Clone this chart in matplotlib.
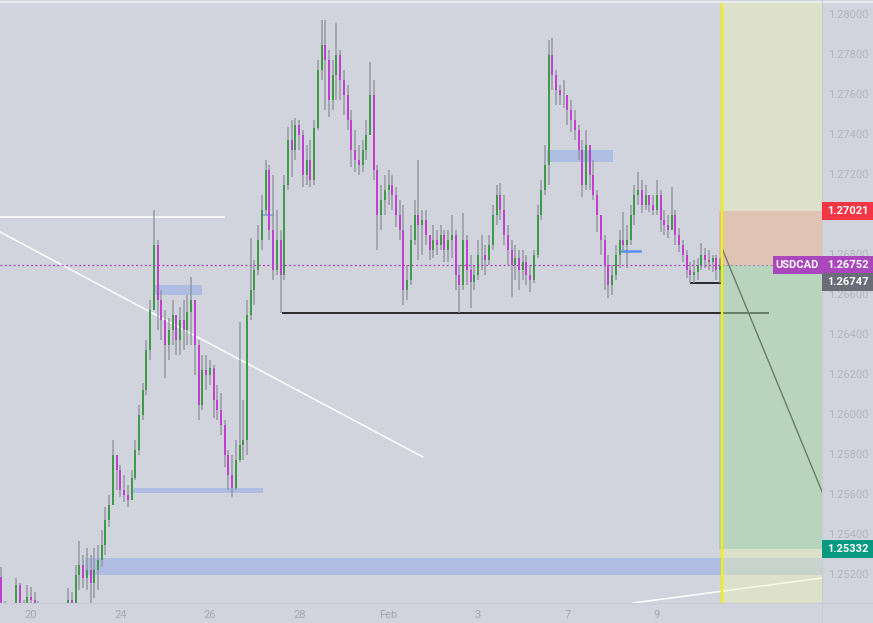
import numpy as np
import matplotlib
matplotlib.use("Agg")
import matplotlib.pyplot as plt
from matplotlib.patches import Rectangle
from matplotlib.lines import Line2D
from matplotlib.transforms import blended_transform_factory

# USDCAD, 2h bars from 19 Jan 16:00 to 10 Feb 08:00
# prices in points (1e-5) above 1.0  ->  price = 1 + pts / 1e5
open0_pts = 25190
close_pts = [
    25060, 25000, 25015, 25025, 25150, 25050, 25035, 25090, 25075, 25060,
    25015, 24985, 24965, 24995, 24975, 25005, 25025, 25015, 25075, 25060,
    25200, 25250, 25185, 25225, 25160, 25225, 25275, 25350, 25475, 25550,
    25800, 25725, 25625, 25600, 25575, 25685, 25825, 26000, 26125, 26325,
    26525, 26850, 26575, 26475, 26350, 26425, 26500, 26375, 26475, 26425,
    26515, 26575, 26350, 26050, 26225, 26200, 26235, 26075, 26025, 25950,
    25800, 25700, 25635, 25775, 25850, 25875, 26500, 26625, 26725, 26875,
    27025, 27225, 26925, 26725, 26875, 26700, 27150, 27375, 27325, 27450,
    27400, 27200, 27275, 27175, 27435, 27725, 27850, 27775, 27575, 27700,
    27800, 27675, 27600, 27475, 27325, 27275, 27250, 27325, 27400, 27600,
    27225, 27000, 27075, 27125, 27150, 27100, 27000, 26925, 26625, 26675,
    26875, 27000, 26950, 26975, 26900, 26825, 26875, 26850, 26900, 26825,
    26875, 26900, 26700, 26650, 26875, 26725, 26665, 26700, 26800, 26800,
    26775, 26850, 27000, 27100, 27025, 26900, 26825, 26750, 26785, 26725,
    26765, 26700, 26675, 26800, 27000, 27125, 27250, 27800, 27700, 27625,
    27600, 27600, 27525, 27475, 27425, 27325, 27150, 27350, 27200, 27100,
    27000, 26875, 26750, 26650, 26700, 26800, 26875, 26850, 26875, 27000,
    27100, 27125, 27050, 27100, 27050, 27025, 27100, 26975, 26950, 26925,
    27000, 26900, 26850, 26800, 26725, 26700, 26715, 26750, 26800, 26775,
    26765, 26785, 26725, 26747]
high_pts = [
    25240, 25070, 25045, 25050, 25185, 25160, 25075, 25150, 25140, 25115,
    25070, 25035, 25015, 25025, 25030, 25040, 25045, 25050, 25135, 25115,
    25250, 25370, 25300, 25335, 25300, 25335, 25350, 25425, 25540, 25600,
    25875, 25800, 25750, 25700, 25650, 25725, 25875, 26050, 26160, 26375,
    26575, 27025, 26875, 26625, 26525, 26485, 26575, 26500, 26540, 26575,
    26600, 26690, 26575, 26375, 26300, 26300, 26275, 26250, 26150, 26110,
    25975, 25825, 25800, 25875, 26465, 26075, 26575, 26885, 26775, 26950,
    27100, 27275, 27250, 27200, 27025, 26925, 27200, 27440, 27475, 27485,
    27475, 27425, 27350, 27375, 27475, 27775, 27975, 27975, 27825, 27775,
    27960, 27825, 27725, 27650, 27525, 27425, 27350, 27375, 27475, 27765,
    27675, 27250, 27150, 27200, 27225, 27200, 27140, 27075, 27050, 26750,
    26950, 27075, 27275, 27025, 27025, 26900, 26950, 26925, 26950, 26925,
    26925, 27000, 26925, 26750, 27010, 26900, 26800, 26750, 26875, 26900,
    26850, 26900, 27050, 27150, 27160, 27100, 26950, 26875, 26850, 26825,
    26825, 26800, 26750, 26825, 27050, 27175, 27350, 27875, 27885, 27725,
    27650, 27675, 27600, 27575, 27525, 27450, 27375, 27425, 27350, 27275,
    27125, 27000, 26900, 26800, 26750, 26850, 26925, 27015, 26950, 27050,
    27150, 27215, 27175, 27150, 27100, 27100, 27175, 27125, 27025, 27000,
    27140, 27025, 26935, 26875, 26825, 26765, 26775, 26785, 26860, 26835,
    26825, 26800, 26800, 26785]
low_pts = [
    25000, 24950, 24965, 24975, 25015, 25015, 24975, 25015, 25000, 25000,
    24965, 24945, 24925, 24935, 24950, 24955, 24975, 24985, 25000, 25000,
    25050, 25125, 25135, 25125, 25060, 25085, 25125, 25240, 25300, 25440,
    25550, 25625, 25590, 25565, 25540, 25575, 25675, 25800, 25975, 26100,
    26275, 26525, 26425, 26375, 26185, 26275, 26350, 26300, 26300, 26325,
    26350, 26350, 26200, 25975, 26025, 26125, 26150, 25985, 25975, 25900,
    25740, 25625, 25590, 25625, 25765, 25775, 25800, 26475, 26550, 26700,
    26825, 27000, 26875, 26675, 26700, 26510, 26675, 27125, 27190, 27275,
    27325, 27140, 27150, 27140, 27150, 27425, 27675, 27525, 27490, 27525,
    27575, 27575, 27500, 27425, 27240, 27215, 27200, 27215, 27275, 27400,
    27175, 26825, 26925, 27000, 27050, 27025, 26940, 26875, 26550, 26575,
    26650, 26850, 26775, 26800, 26850, 26775, 26785, 26800, 26825, 26765,
    26765, 26785, 26625, 26510, 26625, 26650, 26535, 26625, 26675, 26725,
    26700, 26750, 26825, 26950, 26975, 26850, 26750, 26590, 26675, 26625,
    26675, 26650, 26615, 26660, 26785, 26975, 27100, 27150, 27625, 27550,
    27550, 27535, 27450, 27415, 27375, 27275, 27090, 27125, 27125, 27075,
    26915, 26800, 26625, 26585, 26600, 26675, 26735, 26825, 26735, 26850,
    26950, 27050, 27010, 27025, 27015, 27000, 27000, 26915, 26900, 26885,
    26925, 26850, 26815, 26765, 26685, 26660, 26660, 26675, 26725, 26735,
    26725, 26715, 26675, 26660]

date_ticks = [8, 32, 56, 80, 104, 128, 152, 176]
date_labels = ["20", "24", "26", "28", "Feb", "3", "7", "9"]
# 1.27000 sits under the stop tag, so it is not listed
price_ticks = [1.28, 1.278, 1.276, 1.274, 1.272, 1.268, 1.266,
               1.264, 1.262, 1.260, 1.258, 1.256, 1.254, 1.252]
last_price = 1.26752
bid_price = 1.26747
stop_price = 1.27021
target_price = 1.25332

BG = "#d1d4dc"
close = 1 + np.array(close_pts) / 1e5
high = 1 + np.array(high_pts) / 1e5
low = 1 + np.array(low_pts) / 1e5
opn = np.concatenate([[1 + open0_pts / 1e5], close[:-1]])
idx = np.arange(len(close))

fig = plt.figure(figsize=(8.73, 6.23), dpi=100)
fig.patch.set_facecolor(BG)
ax = fig.add_axes([0, 20 / 623, 822 / 873, 600 / 623])
ax.set_facecolor(BG)
ax.set_xlim(-0.32, 220.35)
ax.set_ylim(1.25060, 1.28060)
for s in ax.spines.values():
    s.set_visible(False)
fig.add_artist(Line2D([0, 1], [1 - 1.5 / 623] * 2, color="#eef0f4", lw=1.2))
fig.add_artist(Line2D([822 / 873] * 2, [0, 1], color="#c9ccd4", lw=0.8))
fig.add_artist(Line2D([0, 1], [20 / 623] * 2, color="#c9ccd4", lw=0.8))

# drawings under the bars
ax.plot([-1, 59.8], [1.26990, 1.26990], color="white", lw=1.1, zorder=2)
ax.plot([-0.3, 113.2], [1.26915, 1.25790], color="white", lw=1.1, zorder=2)
ax.plot([169.6, 220.4], [1.25060, 1.25185], color="white", lw=1.1, zorder=2)
for x0, x1, y0, y1 in [(40.7, 53.9, 1.26600, 1.26650), (34.8, 70.3, 1.25610, 1.25635),
                       (22.5, 220.4, 1.25200, 1.25285), (146.5, 164.2, 1.27265, 1.27325)]:
    ax.add_patch(Rectangle((x0, y0), x1 - x0, y1 - y0, facecolor="#2962ff", alpha=0.2,
                           lw=0, zorder=1.5))
ax.plot([70, 73], [1.27000, 1.27000], color="#5b8def", lw=1.5, alpha=0.6, zorder=2)
ax.plot([166.7, 171.5], [1.26820, 1.26820], color="#5b8def", lw=1.8, zorder=4)
ax.plot([75.7, 205.8], [1.26510, 1.26510], color="#2a2a2e", lw=1.4, zorder=2)
ax.plot([185.2, 193.5], [1.26660, 1.26660], color="#2a2a2e", lw=1.4, zorder=2)

# candles: gray wick + coloured body
ax.vlines(idx, low, high, color="#8d9099", lw=1.1, alpha=0.85, zorder=3)
up = close >= opn
ax.vlines(idx[up], opn[up], close[up], color="#3f9a45", lw=1.4, zorder=3.5)
ax.vlines(idx[~up], close[~up], opn[~up], color="#c040d0", lw=1.4, zorder=3.5)

ax.axhline(last_price, color="#b040c0", lw=0.9, ls=(0, (1.5, 2)), zorder=4)

# highlight + short position tool
ax.add_patch(Rectangle((193.5, 1.2), 40, 0.2, facecolor="#f0f5b0", alpha=0.4, lw=0, zorder=5))
ax.add_patch(Rectangle((192.7, last_price), 40, stop_price - last_price,
                       facecolor="#f23645", alpha=0.17, lw=0, zorder=5.2))
ax.add_patch(Rectangle((192.7, target_price), 40, last_price - target_price,
                       facecolor="#089981", alpha=0.17, lw=0, zorder=5.2))
ax.plot([193.7, 220.4], [1.26825, 1.25615], color="#6c7a68", lw=1.0, zorder=6)
ax.axvline(193.5, color="#f2f200", lw=1.6, zorder=6)

ax.set_xticks(date_ticks)
ax.set_xticklabels(date_labels)
ax.set_yticks([])
ax.tick_params(axis="x", length=0, pad=5, labelsize=8, labelcolor="#a4a7b0")
for t in ax.get_xticklabels():
    t.set_fontfamily("Roboto")

tr = blended_transform_factory(fig.transFigure, ax.transData)
for p in price_ticks:
    fig.text(828 / 873, p, f"{p:.5f}", transform=tr, ha="left", va="center",
             fontsize=8, color="#b3b6be", family="Roboto", zorder=1)

def tag(yc, text, color, x0=822, x1=873):
    h = 18 * 0.00005
    fig.add_artist(Rectangle((x0 / 873, yc - h / 2), (x1 - x0) / 873, h, transform=tr,
                             facecolor=color, lw=0, zorder=5))
    fig.text((x0 + x1) / 2 / 873, yc, text, transform=tr, ha="center", va="center",
             fontsize=8, fontweight="bold", color="white", family="Roboto", zorder=6)

tag(stop_price, f"{stop_price:.5f}", "#f23645")
tag(last_price, "USDCAD", "#ab47bc", 773, 822)
tag(last_price, f"{last_price:.5f}", "#ab47bc")
tag(1.26665, f"{bid_price:.5f}", "#6a6d78")
tag(target_price, f"{target_price:.5f}", "#089981")

fig.savefig("out.png", dpi=100, facecolor=BG)
